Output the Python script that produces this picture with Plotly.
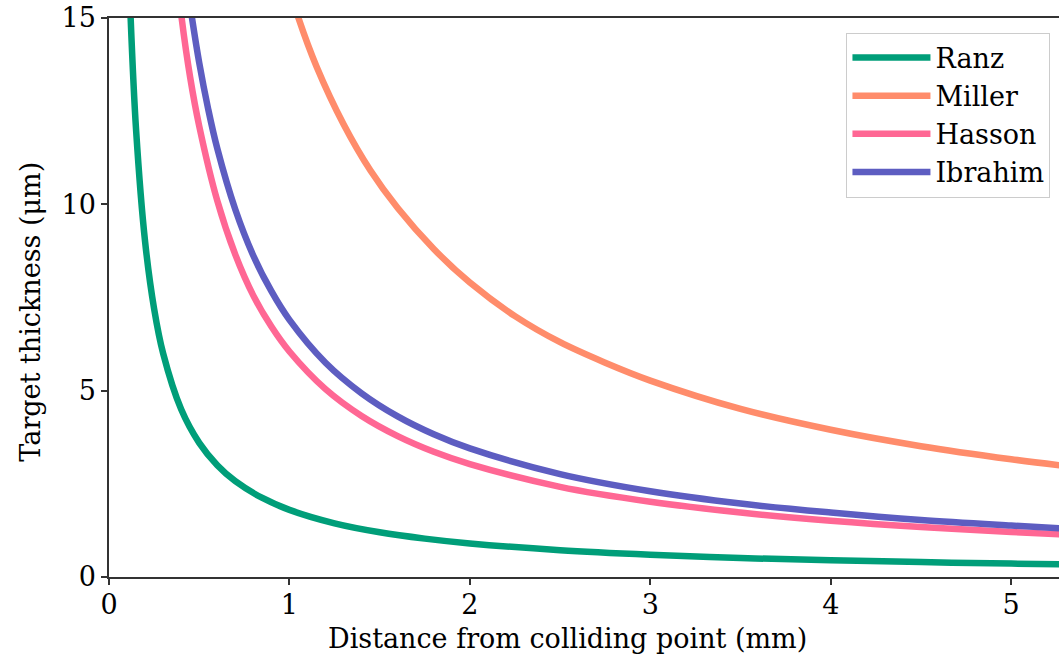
import plotly.graph_objects as go

# Values
ranz_x = [0.10, 0.12, 0.15, 0.20, 0.25, 0.30, 0.40, 0.50, 0.60, 0.70, 0.85, 1.00, 1.25, 1.50, 1.75, 2.00, 2.50, 3.00, 3.50, 4.00, 4.50, 5.00, 5.30]
ranz_y = [18.0, 15.0, 12.0, 9.0, 7.2, 6.0, 4.5, 3.6, 3.0, 2.57, 2.12, 1.80, 1.44, 1.20, 1.03, 0.90, 0.72, 0.60, 0.51, 0.45, 0.40, 0.36, 0.34]

miller_x = [1.00, 1.05, 1.15, 1.30, 1.45, 1.60, 1.80, 2.00, 2.25, 2.50, 2.75, 3.00, 3.50, 4.00, 4.50, 5.00, 5.30]
miller_y = [15.8, 15.0, 13.7, 12.15, 10.9, 9.9, 8.8, 7.9, 7.0, 6.3, 5.75, 5.27, 4.51, 3.95, 3.51, 3.16, 2.98]

hasson_x = [0.38, 0.40, 0.45, 0.50, 0.60, 0.70, 0.80, 0.90, 1.00, 1.20, 1.40, 1.60, 1.80, 2.00, 2.50, 3.00, 3.50, 4.00, 4.50, 5.00, 5.30]
hasson_y = [16.0, 15.1, 13.4, 12.1, 10.1, 8.65, 7.55, 6.72, 6.05, 5.04, 4.32, 3.78, 3.36, 3.03, 2.42, 2.02, 1.73, 1.51, 1.34, 1.21, 1.14]

ibrahim_x = [0.43, 0.46, 0.50, 0.55, 0.60, 0.70, 0.80, 0.90, 1.00, 1.20, 1.40, 1.60, 1.80, 2.00, 2.50, 3.00, 3.50, 4.00, 4.50, 5.00, 5.30]
ibrahim_y = [16.0, 15.0, 13.8, 12.55, 11.5, 9.86, 8.62, 7.67, 6.90, 5.75, 4.93, 4.31, 3.83, 3.45, 2.76, 2.30, 1.97, 1.73, 1.53, 1.38, 1.30]

series = [
    ("Ranz", ranz_x, ranz_y, "#009E79"),
    ("Miller", miller_x, miller_y, "#FF8C6B"),
    ("Hasson", hasson_x, hasson_y, "#FF6794"),
    ("Ibrahim", ibrahim_x, ibrahim_y, "#5D5DC1"),
]

x_ticks = [0, 1, 2, 3, 4, 5]
y_ticks = [0, 5, 10, 15]
x_title = "Distance from colliding point (mm)"
y_title = "Target thickness (μm)"

FONT = "DejaVu Serif"
FS = 27

fig = go.Figure()
for name, xs, ys, col in series:
    fig.add_trace(go.Scatter(x=xs, y=ys, mode="lines", name=name,
                             line=dict(color=col, width=6.5, shape="spline", smoothing=1.0)))

axis_common = dict(showline=True, linecolor="#333333", linewidth=1.5,
                   ticks="outside", ticklen=6, tickwidth=1.5, tickcolor="#333333",
                   showgrid=False, zeroline=False,
                   tickfont=dict(family=FONT, size=FS, color="black"))

fig.update_layout(
    width=1059, height=657,
    margin=dict(l=109, r=0, t=18, b=80),
    paper_bgcolor="white", plot_bgcolor="white",
    font=dict(family=FONT, size=FS, color="black"),
    xaxis=dict(range=[0, 5.265], tickvals=x_ticks, mirror=True, ticklabelstandoff=-3, **axis_common),
    yaxis=dict(range=[0, 15], tickvals=y_ticks, **axis_common),
    legend=dict(x=0.991, y=0.974, xanchor="right", yanchor="top",
                bgcolor="white", bordercolor="#cccccc", borderwidth=1,
                font=dict(family=FONT, size=FS), tracegroupgap=0, itemwidth=78),
    showlegend=True,
    annotations=[
        dict(text=x_title, xref="paper", yref="paper", x=0.483, y=-0.11,
             xanchor="center", yanchor="middle", showarrow=False,
             font=dict(family=FONT, size=FS, color="black")),
        dict(text=y_title, xref="paper", yref="paper", x=-0.083, y=0.475,
             xanchor="center", yanchor="middle", showarrow=False, textangle=-90,
             font=dict(family=FONT, size=FS, color="black")),
    ],
)

fig.write_html("out.html")
